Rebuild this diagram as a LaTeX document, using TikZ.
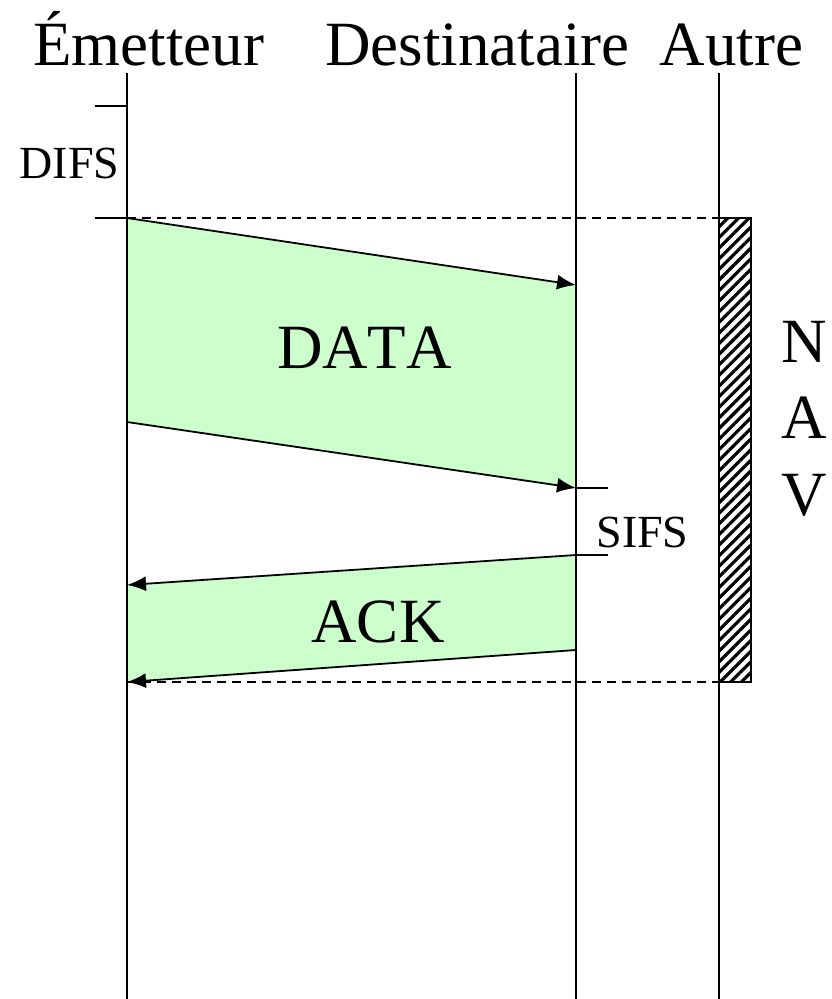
\documentclass[tikz,border=0pt]{standalone}
\usepackage{fontspec}
\setmainfont[Kerning=Off]{Liberation Serif}
\usetikzlibrary{patterns.meta,arrows.meta}
\definecolor{pktgreen}{HTML}{CCFFCC}
\begin{document}
\begin{tikzpicture}[x=1pt,y=-1pt,
  life/.style={line width=1.4pt},
  msg/.style={line width=1.8pt,-{Latex[length=19pt,width=15pt]}},
  tickline/.style={line width=1.8pt},
  edge/.style={line width=2.2pt},
  guide/.style={line width=1.4pt,dash pattern=on 9pt off 6pt},
  big/.style={font=\fontsize{63}{63}\selectfont,inner sep=0pt,anchor=base},
  small/.style={font=\fontsize{46}{46}\selectfont,inner sep=0pt,anchor=base}]
\useasboundingbox (0,0) rectangle (831,999);
% titles
\node[big] (tem) at (148.5,65) {Émetteur};
\node[big] (tde) at (477.5,65) {Destinataire};
\node[big] (tau) at (731.5,65) {Autre};
% lifelines
\coordinate (e0) at (127,73);  \coordinate (e1) at (127,999);
\coordinate (d0) at (576,73);  \coordinate (d1) at (576,999);
\coordinate (a0) at (719,73);  \coordinate (a1) at (719,999);
% key points
\coordinate (p1) at (127,218); \coordinate (p2) at (576,285);
\coordinate (p3) at (576,488); \coordinate (p4) at (127,422);
\coordinate (q1) at (576,555); \coordinate (q2) at (127,585);
\coordinate (q3) at (127,682); \coordinate (q4) at (576,650);
\coordinate (n1) at (719,218); \coordinate (n2) at (751,682);
\coordinate (n3) at (719,682);
% packets
\fill[pktgreen] (p1) -- (p2) -- (p3) -- (p4) -- cycle;
\fill[pktgreen] (q1) -- (q2) -- (q3) -- (q4) -- cycle;
% dashed guides
\draw[guide] (p1) -- (n1);
\draw[guide] (q3) -- (n3);
% NAV
\draw[line width=1.8pt,pattern={Lines[angle=45,distance=7.5pt,line width=3.2pt]}] (n1) rectangle (n2);
% lifelines
\draw[life] (e0) -- (e1);
\draw[life] (d0) -- (d1);
\draw[life] (a0) -- (a1);
% packet edges
\draw[msg] (p1) -- (p2);
\draw[msg] (p4) -- (p3);
\draw[edge] (p2) -- (p3);
\draw[msg] (q1) -- (q2);
\draw[msg] (q4) -- (q3);
\draw[edge] (q1) -- (q4);
% ticks
\coordinate (t1) at (95,106); \coordinate (t1e) at (127,106);
\coordinate (t2) at (95,218);
\draw[tickline] (t1) -- (t1e);
\draw[tickline] (t2) -- (p1);
\coordinate (s1) at (608,488); \coordinate (s2) at (608,555);
\draw[tickline] (p3) -- (s1);
\draw[tickline] (q1) -- (s2);
% labels
\node[small] (difs) at (69.5,178) {DIFS};
\node[small] (sifs) at (642.5,547) {SIFS};
\node[big] (data) at (364.5,368) {DATA};
\node[big] (ack) at (378,642) {ACK};
\node[big] (navn) at (804,362) {N};
\node[big] (nava) at (804,438) {A};
\node[big] (navv) at (804,515) {V};
\end{tikzpicture}
\end{document}
